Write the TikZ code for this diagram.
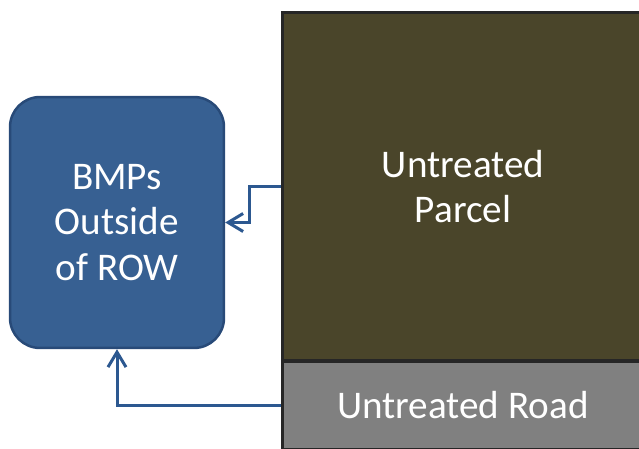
\documentclass[tikz,border=0pt]{standalone}
\usepackage{fontspec}
\setmainfont{Carlito}
\usetikzlibrary{arrows.meta}
\definecolor{bmpblue}{RGB}{55,96,146}
\definecolor{bmpedge}{RGB}{40,74,120}
\definecolor{flowblue}{RGB}{44,88,144}
\definecolor{parcelolive}{RGB}{74,69,42}
\definecolor{roadgray}{RGB}{128,128,128}
\definecolor{edgegray}{RGB}{38,38,38}
\tikzstyle{bmp} = [rectangle, rounded corners=0.6cm,
                   minimum width=4.28cm, minimum height=5.02cm,
                   text centered, align=center, draw=bmpedge, fill=bmpblue,
                   text=white, line width=0.5mm,
                   font=\fontsize{22.3}{26}\selectfont]
\tikzstyle{landarea} = [rectangle, inner sep=0pt, minimum width=7.24cm,
                        text centered, align=center, draw=edgegray,
                        text=white, line width=0.6mm,
                        font=\fontsize{22.3}{26}\selectfont]
\tikzstyle{arrow} = [line width=0.6mm, draw=flowblue,
                     -{Straight Barb[length=3mm, width=3.6mm]}]
\begin{document}
\begin{tikzpicture}[x=0.02cm, y=-0.02cm]
    \useasboundingbox (0,0) rectangle (639,449);

        \node (BMP) [bmp] at (117,222.5) {BMPs\\Outside\\of ROW};

        \node (Parcel) [landarea, fill=parcelolive, minimum height=6.98cm] at (463,186.5) {Untreated\\Parcel};

        \node (Road) [landarea, fill=roadgray, minimum height=1.78cm] at (463,405.5) {Untreated Road};

        \draw [arrow] (Parcel.west) -- ++(-31,0) |- (BMP.east);
        \draw [arrow] (Road.west) -| (BMP.south);

    \end{tikzpicture}
\end{document}
